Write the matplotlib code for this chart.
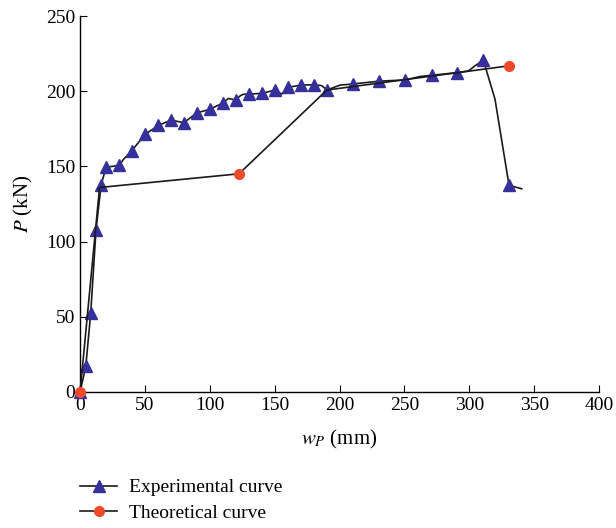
"""Load-displacement curve: experimental vs theoretical P-w_P."""
import matplotlib as mpl
mpl.use("Agg")
import matplotlib.pyplot as plt

mpl.rcParams.update({
    "font.family": "serif", "font.serif": ["Liberation Serif", "DejaVu Serif"],
    "mathtext.fontset": "stix", "font.size": 14,
    "axes.spines.right": False, "axes.spines.top": False, "axes.linewidth": 1.0,
    "xtick.direction": "in", "ytick.direction": "in",
    "xtick.major.size": 5, "ytick.major.size": 5,
})

# experimental curve (line vertices; triangles only at measured points)
exp_w = [0, 4.4, 8.2, 12.3, 16.2, 20.0, 30.1, 33.4, 39.8, 50.1, 60.4, 70.1, 79.9, 90.2,
         100.2, 110.4, 114.3, 120.2, 123.3, 125.9, 130.5, 140.3, 150.3, 155.4, 160.5,
         170.3, 180.3, 186.3, 190.2, 200.4, 210.2, 230.4, 250.5, 262.0, 271.0, 290.8,
         299.3, 304.4, 310.8, 319.8, 330.6, 340.4]
exp_p = [0, 17, 52.5, 108, 137.6, 149.4, 150.7, 154.6, 160.4, 171.3, 177.3, 180.8, 179.1,
         185.7, 188, 192.4, 195.2, 194.1, 196.9, 198, 198.1, 198.6, 200.8, 198.1, 202.6,
         204.1, 204.3, 203.7, 200.8, 204.1, 204.8, 206.7, 207.5, 209.8, 210.6, 212.4,
         213.5, 216.9, 220.7, 194.7, 137.5, 135.1]
exp_marked = [0, 1, 2, 3, 4, 5, 6, 8, 9, 10, 11, 12, 13, 14, 15, 17, 20, 21, 22, 24,
              25, 26, 28, 30, 31, 32, 34, 35, 38, 40]

# theoretical curve
th_w = [0, 15, 122.5, 190.2, 330.6]
th_p = [0, 136, 145.1, 200.8, 216.9]
th_marked = [0, 2, 4]

fig = plt.figure(figsize=(6.16, 5.28), dpi=100)
ax = fig.add_axes([0.13, 0.2576, 0.8425, 0.712])

ax.plot(exp_w, exp_p, "-", color="#1a1a1a", lw=1.2, marker="^", ms=8.5,
        mfc="#35309A", mec="#35309A", markevery=exp_marked, label="Experimental curve",
        zorder=2, clip_on=False)
ax.plot(th_w, th_p, "-", color="#1a1a1a", lw=1.2, marker="o", ms=7,
        mfc="#F04A2C", mec="#F04A2C", markevery=th_marked, label="Theoretical curve",
        zorder=3, clip_on=False)

ax.set_xlim(0, 400)
ax.set_ylim(0, 250)
ax.set_xticks(range(0, 401, 50))
ax.set_yticks(range(0, 251, 50))
ax.set_xlabel("$w_P$ (mm)", labelpad=10, fontsize=15)
ax.set_ylabel("$P$ (kN)", labelpad=8, fontsize=15)

fig.legend(loc="upper left", bbox_to_anchor=(0.118, 0.108), frameon=False,
           handlelength=1.9, handletextpad=0.6, labelspacing=0.4, fontsize=14,
           borderaxespad=0)

fig.savefig("out.png", dpi=100)
